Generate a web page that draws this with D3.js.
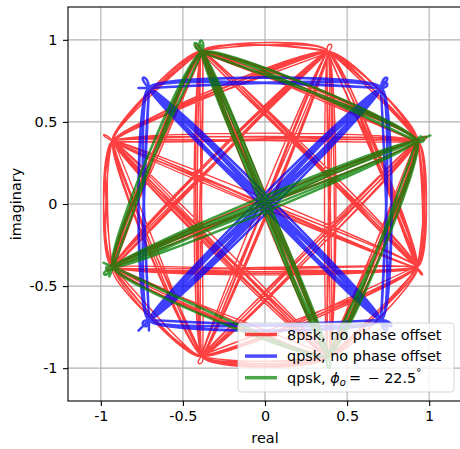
<!DOCTYPE html>
<html>
<head>
<meta charset="utf-8">
<script src="https://cdn.jsdelivr.net/npm/d3@7"></script>
<style>
body{margin:0;background:#fff;}
text{font-family:"DejaVu Sans",sans-serif;}
</style>
</head>
<body>
<div id="chart"></div>
<script>
// constellation points, [real, imaginary]
var psk8Points = [[0.924,0.383],[0.383,0.924],[-0.383,0.924],[-0.924,0.383],[-0.924,-0.383],[-0.383,-0.924],[0.383,-0.924],[0.924,-0.383]];
var qpskPoints = [[0.707,0.707],[-0.707,0.707],[-0.707,-0.707],[0.707,-0.707]];
var qpskOffsetPoints = [[0.924,0.383],[-0.383,0.924],[-0.924,-0.383],[0.383,-0.924]];

// transmitted symbol indices
var psk8Symbols = [3,6,1,4,0,5,2,7,7,1,3,0,6,4,2,5,1,7,3,3,6,0,2,4,5,1,6,7,0,3,
  2,6,5,0,4,1,1,7,2,3,5,6,0,7,4,2,1,5,3,0,
  6,2,7,4,3,1,0,5,6,4,7,2,0,1,3,6,5,2,4,7,
  1,0,2,6,3,7,5,4,0,6,1,2,7,3,4,5,0,2,5,1,
  6,4,3,0,7,1,5,6,2,2,0,4,7,6,3,5,1,3,4,0,
  5,7,1,6,0,3,2,4,6,1,7,5,3,2,0,6,7,4,1,5,
  2,7,0,4,6,1,3,5,5,0,7,2,4,1,6,3,0,0,5,2,
  7,1,4,6,3,2,5,7,6,0,1,4,2,3,7,0,5,4,6,2,
  1,3,6,7,4,0,2,1,5,6,3,4,7,0,6,5,2,1,0,7,
  4,3,5,2,6,0,1,7,3,6,2,5,4,4,1,0,3,7,5,6,
  0,2,4,3,1,6,7,5,2,0,4,6,1,3,5,7,0,1,6,2];
var qpskSymbols = [0,2,1,3,3,0,1,2,0,3,2,2,1,0,3,1,2,0,0,3,
  1,1,2,3,0,2,3,1,0,1,3,2,1,3,0,0,2,1,2,3,
  3,1,0,2,1,0,3,3,2,0,1,2,2,3,1,0,0,3,1,2,
  2,1,3,0,0,1,2,3,1,3,0,2,2,0,1,3,3,2,0,1,
  1,0,3,2,0,2,1,1,3,0,2,3,1,2,0,3,2,1,0,3];
var qpskOffsetSymbols = [2,0,3,1,1,2,0,3,2,1,0,0,3,2,1,3,0,2,2,1,
  3,3,0,1,2,0,1,3,2,3,1,0,3,1,2,2,0,3,0,1,
  1,3,2,0,3,2,1,1,0,2,3,0,0,1,3,2,2,1,3,0,
  0,1,3,2,2,3,1,0,1,2,0,3,3,1,0,2,0,3,1,2,
  2,1,0,3,1,3,2,0,0,2,3,1,3,0,2,1,1,0,3,2];

var tickValues = [-1,-0.5,0,0.5,1];
var tickLabels = ["-1","-0.5","0","0.5","1"];
var legendLabels = ["8psk, no phase offset","qpsk, no phase offset","qpsk, "];

var series = [
  {points: psk8Points, symbols: psk8Symbols, color: "#ff0000", width: 1.4, tension: 0.7},
  {points: qpskPoints, symbols: qpskSymbols, color: "#0000ff", width: 2.5, tension: 0.64},
  {points: qpskOffsetPoints, symbols: qpskOffsetSymbols, color: "#008000", width: 2.5, tension: 0.64}
];

var width = 460, height = 449;
var plotLeft = 68, plotTop = 7, size = 394;

var svg = d3.select("#chart").append("svg").attr("width", width).attr("height", height);

var x = d3.scaleLinear().domain([-1.2,1.2]).range([plotLeft, plotLeft + size]);
var y = d3.scaleLinear().domain([-1.2,1.2]).range([plotTop + size, plotTop]);

svg.append("clipPath").attr("id","plotclip").append("rect")
  .attr("x", plotLeft).attr("y", plotTop).attr("width", size).attr("height", size);

// grid
var grid = svg.append("g");
grid.selectAll(".gx").data(tickValues).enter().append("line")
  .attr("x1", d => x(d)).attr("x2", d => x(d)).attr("y1", plotTop).attr("y2", plotTop + size)
  .attr("stroke","#b0b0b0").attr("stroke-width",1.1);
grid.selectAll(".gy").data(tickValues).enter().append("line")
  .attr("y1", d => y(d)).attr("y2", d => y(d)).attr("x1", plotLeft).attr("x2", plotLeft + size)
  .attr("stroke","#b0b0b0").attr("stroke-width",1.1);

// trajectories
svg.append("g").attr("clip-path","url(#plotclip)")
  .selectAll("path").data(series).enter().append("path")
  .attr("d", function(s){
    var traj = d3.line().x(d => x(d[0])).y(d => y(d[1])).curve(d3.curveCardinal.tension(s.tension));
    return traj(s.symbols.map(k => s.points[k]));
  })
  .attr("fill","none")
  .attr("stroke", s => s.color)
  .attr("stroke-width", s => s.width)
  .attr("stroke-opacity", 0.75)
  .attr("stroke-linejoin","round");

// axes
var xAxis = svg.append("g").attr("transform","translate(0," + (plotTop + size) + ")")
  .call(d3.axisBottom(x).tickValues(tickValues).tickFormat((d,i) => tickLabels[i]).tickSize(5).tickPadding(5));
var yAxis = svg.append("g").attr("transform","translate(" + plotLeft + ",0)")
  .call(d3.axisLeft(y).tickValues(tickValues).tickFormat((d,i) => tickLabels[i]).tickSize(5).tickPadding(5.5));
[xAxis, yAxis].forEach(function(a){
  a.select(".domain").remove();
  a.selectAll("line").attr("stroke","#000").attr("stroke-width",1.1);
  a.selectAll("text").attr("font-size","14.4px").attr("fill","#000").style("font-family","DejaVu Sans");
});

svg.append("rect").attr("x", plotLeft).attr("y", plotTop).attr("width", size).attr("height", size)
  .attr("fill","none").attr("stroke","#000").attr("stroke-width",1.1);

svg.append("text").attr("x", plotLeft + size/2).attr("y", 442.5).attr("text-anchor","middle")
  .attr("font-size","14.4px").text("real");
svg.append("text").attr("transform","translate(21," + (plotTop + size/2) + ") rotate(-90)")
  .attr("text-anchor","middle").attr("font-size","14.4px").text("imaginary");

// legend
var legend = svg.append("g");
legend.append("rect").attr("x",238).attr("y",323).attr("width",216).attr("height",69).attr("rx",3)
  .attr("fill","#fff").attr("fill-opacity",0.8).attr("stroke","#cccccc").attr("stroke-opacity",0.8);

var rows = legend.selectAll(".row").data(series).enter().append("g")
  .attr("transform", (d,i) => "translate(245," + (334.5 + i*21.6) + ")");
rows.append("line").attr("x1",0).attr("x2",32)
  .attr("stroke", d => d.color).attr("stroke-opacity",0.7).attr("stroke-width",3.5);
var labels = rows.append("text").attr("x",42).attr("y",5.2).attr("font-size","14.4px")
  .text((d,i) => legendLabels[i]);

var math = d3.select(labels.nodes()[2]);
math.append("tspan").attr("font-style","italic").text("ϕ");
math.append("tspan").attr("font-style","italic").attr("font-size","10px").attr("dy",3).text("o");
math.append("tspan").attr("dy",-3).attr("dx",3).text("= ");
math.append("tspan").attr("dx",2).text("− 22.5");
math.append("tspan").attr("font-size","10px").attr("dy",-7).text("°");
</script>
</body>
</html>
